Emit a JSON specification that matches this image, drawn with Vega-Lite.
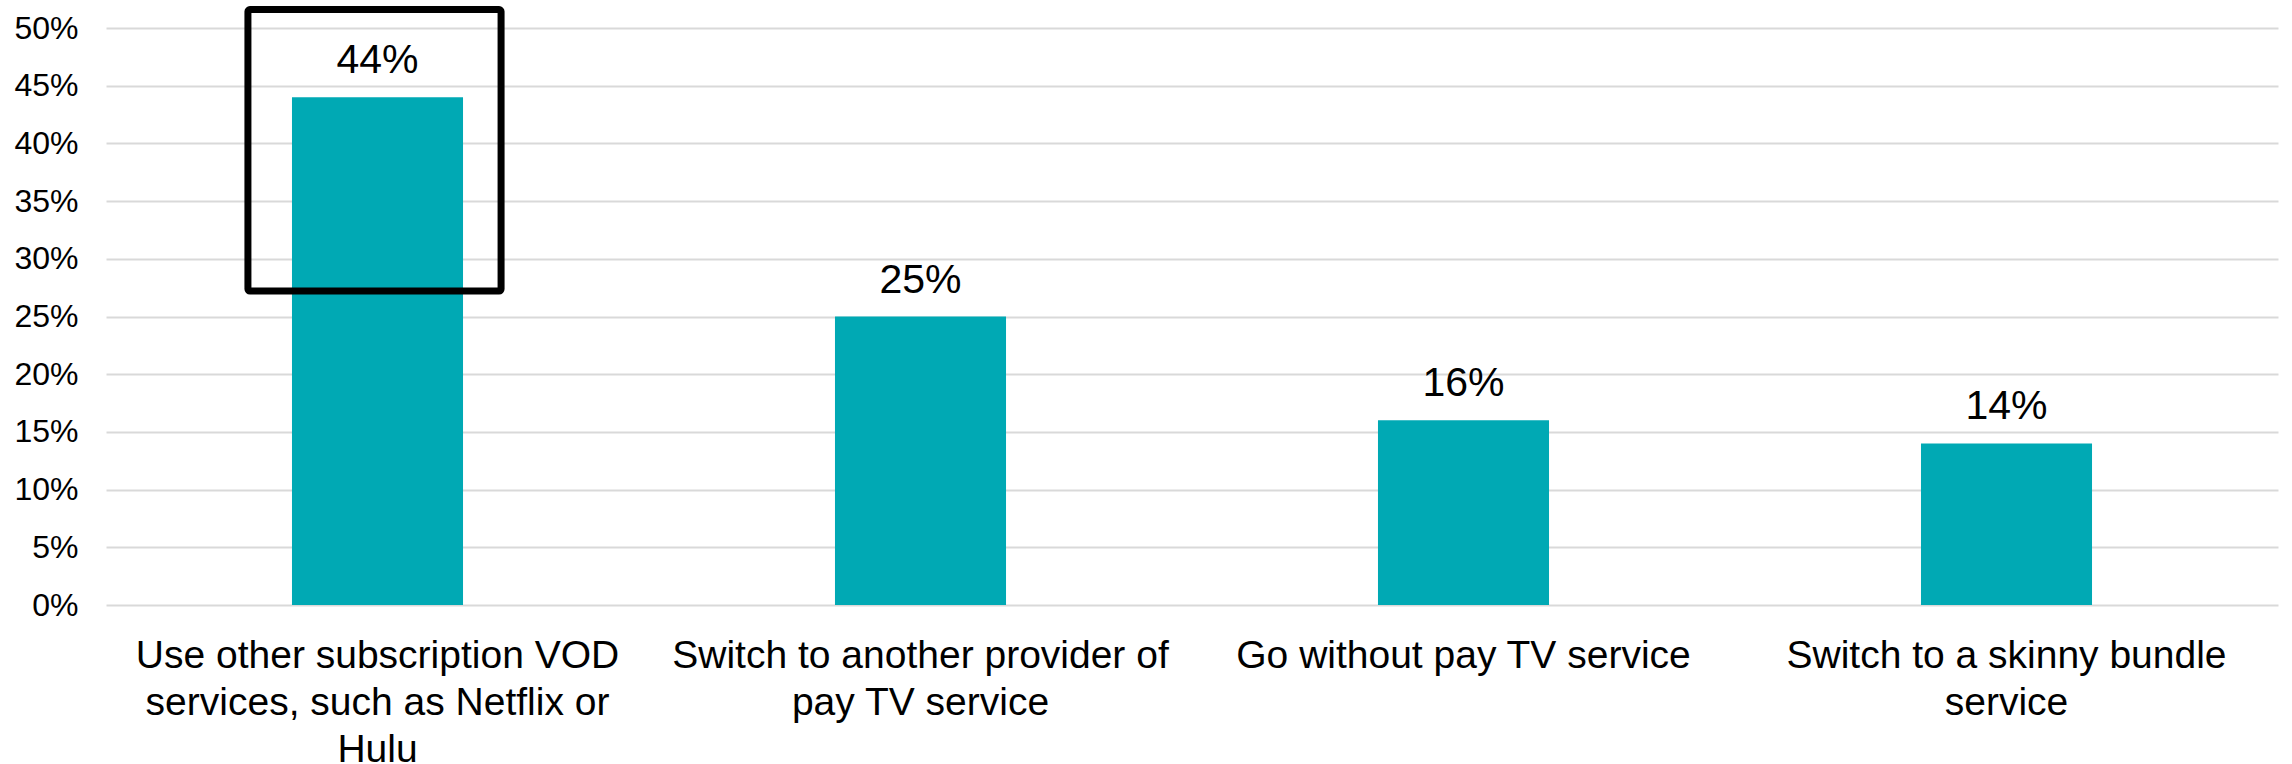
{
  "$schema": "https://vega.github.io/schema/vega-lite/v6.json",
  "width": 2172,
  "height": 577,
  "autosize": {"type": "none"},
  "padding": {"left": 106, "top": 28, "right": 14, "bottom": 159},
  "background": "white",
  "config": {
    "view": {"stroke": null},
    "font": "Liberation Sans"
  },
  "datasets": {
    "bars": [
      {"option": "Use other subscription VOD services, such as Netflix or Hulu", "share": 0.44},
      {"option": "Switch to another provider of pay TV service", "share": 0.25},
      {"option": "Go without pay TV service", "share": 0.16},
      {"option": "Switch to a skinny bundle service", "share": 0.14}
    ],
    "highlight": [
      {"option": "Use other subscription VOD services, such as Netflix or Hulu", "top": 0.516, "bottom": 0.272}
    ]
  },
  "layer": [
    {
      "data": {"name": "bars"},
      "mark": {"type": "bar", "color": "#00A9B4"},
      "encoding": {
        "x": {
          "field": "option",
          "type": "nominal",
          "sort": null,
          "scale": {"paddingInner": 0.685, "paddingOuter": 0.3425},
          "axis": {
            "title": null,
            "labelAngle": 0,
            "domain": false,
            "ticks": false,
            "labelFont": "Liberation Sans",
            "labelFontSize": 39,
            "labelColor": "#000000",
            "labelPadding": 31,
            "labelLineHeight": 47,
            "labelLimit": 0,
            "labelOverlap": false,
            "labelExpr": "datum.label == 'Use other subscription VOD services, such as Netflix or Hulu' ? ['Use other subscription VOD', 'services, such as Netflix or', 'Hulu'] : datum.label == 'Switch to another provider of pay TV service' ? ['Switch to another provider of', 'pay TV service'] : datum.label == 'Switch to a skinny bundle service' ? ['Switch to a skinny bundle', 'service'] : datum.label"
          }
        },
        "y": {
          "field": "share",
          "type": "quantitative",
          "scale": {"domain": [0, 0.5], "nice": false},
          "axis": {
            "title": null,
            "format": ".0%",
            "values": [0, 0.05, 0.1, 0.15, 0.2, 0.25, 0.3, 0.35, 0.4, 0.45, 0.5],
            "labelOverlap": false,
            "domain": false,
            "ticks": false,
            "grid": true,
            "gridColor": "#D9D9D9",
            "gridWidth": 2,
            "labelFont": "Liberation Sans",
            "labelFontSize": 32,
            "labelColor": "#000000",
            "labelPadding": 28
          }
        }
      }
    },
    {
      "data": {"name": "bars"},
      "mark": {"type": "text", "baseline": "alphabetic", "dy": -24, "fontSize": 41, "font": "Liberation Sans", "color": "#000000"},
      "encoding": {
        "x": {"field": "option", "type": "nominal", "sort": null},
        "y": {"field": "share", "type": "quantitative"},
        "text": {"field": "share", "type": "quantitative", "format": ".0%"}
      }
    },
    {
      "data": {"name": "highlight"},
      "mark": {"type": "rect", "fill": null, "fillOpacity": 0, "stroke": "#000000", "strokeWidth": 7, "cornerRadius": 2, "width": {"band": 1.48}, "xOffset": -3, "clip": false},
      "encoding": {
        "x": {"field": "option", "type": "nominal", "sort": null},
        "y": {"field": "top", "type": "quantitative"},
        "y2": {"field": "bottom"}
      }
    }
  ]
}
